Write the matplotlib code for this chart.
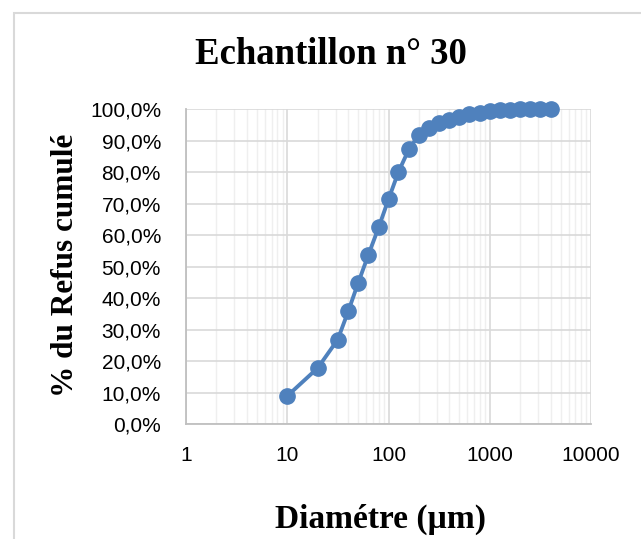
import matplotlib
matplotlib.use("Agg")
import matplotlib.pyplot as plt
from matplotlib.ticker import FuncFormatter, LogLocator, NullFormatter, FixedLocator
from matplotlib.patches import Rectangle

diametre = [10, 20, 31.5, 40, 50, 63, 80, 100, 125, 160, 200, 250, 315, 400,
            500, 630, 800, 1000, 1250, 1600, 2000, 2500, 3150, 4000]
refus = [8.9, 17.8, 26.8, 35.8, 44.7, 53.6, 62.5, 71.4, 80.0, 87.5, 91.8, 94.2,
         95.6, 96.7, 97.7, 98.4, 98.9, 99.4, 99.7, 99.85, 99.95, 100.0, 100.0, 100.0]
x_ticks = [1, 10, 100, 1000, 10000]
x_tick_labels = ["1", "10", "100", "1000", "10000"]
y_ticks = [0, 10, 20, 30, 40, 50, 60, 70, 80, 90, 100]

W, H = 641, 539
fig = plt.figure(figsize=(W / 100, H / 100), dpi=100)
fig.patch.set_facecolor("white")

# chart area border (extends past right and bottom edges)
fig.patches.append(Rectangle((13.5 / W, -0.5), 1.5, 1.5 - 13 / H, transform=fig.transFigure,
                             fill=False, edgecolor="#d9d9d9", linewidth=1.5))

ax = fig.add_axes([186 / W, 1 - 424 / H, (591 - 186) / W, (424 - 109.3) / H])
ax.set_xscale("log")
ax.set_xlim(1, 10000)
ax.set_ylim(0, 100)

ax.plot(diametre, refus, color="#4f81bd", linewidth=2.8, marker="o",
        markersize=11, markerfacecolor="#4f81bd", markeredgecolor="#4f81bd",
        zorder=3, clip_on=False)

ax.xaxis.set_major_locator(FixedLocator(x_ticks))
ax.xaxis.set_minor_locator(LogLocator(base=10, subs=range(2, 10)))
ax.xaxis.set_minor_formatter(NullFormatter())
ax.set_xticklabels(x_tick_labels)
ax.set_yticks(y_ticks)
ax.yaxis.set_major_formatter(FuncFormatter(lambda v, p: f"{v:.1f}%".replace(".", ",")))

ax.grid(True, which="major", color="#d9d9d9", linewidth=1.2)
ax.grid(True, which="minor", axis="x", color="#efefef", linewidth=1.0)
ax.set_axisbelow(True)

for s in ["top", "right"]:
    ax.spines[s].set_visible(False)
for s in ["left", "bottom"]:
    ax.spines[s].set_color("#bfbfbf")
    ax.spines[s].set_linewidth(1.3)

ax.tick_params(axis="both", which="both", length=0, labelsize=15,
               labelcolor="black")
ax.tick_params(axis="x", pad=16)
ax.tick_params(axis="y", pad=18)
for lab in ax.get_xticklabels() + ax.get_yticklabels():
    lab.set_fontfamily("Liberation Sans")

fig.text(331 / W, 1 - 55 / H, "Echantillon n° 30", ha="center", va="center",
         fontsize=26.5, fontweight="bold", family="Liberation Serif")
fig.text(380 / W, 1 - 519 / H, "Diamétre (µm)", ha="center", va="center",
         fontsize=24, fontweight="bold", family="Liberation Serif")
fig.text(66 / W, 1 - 265 / H, "% du Refus cumulé", ha="center", va="center",
         rotation=90, fontsize=22.5, fontweight="bold", family="Liberation Serif")

fig.savefig("out.png", dpi=100, facecolor="white")
